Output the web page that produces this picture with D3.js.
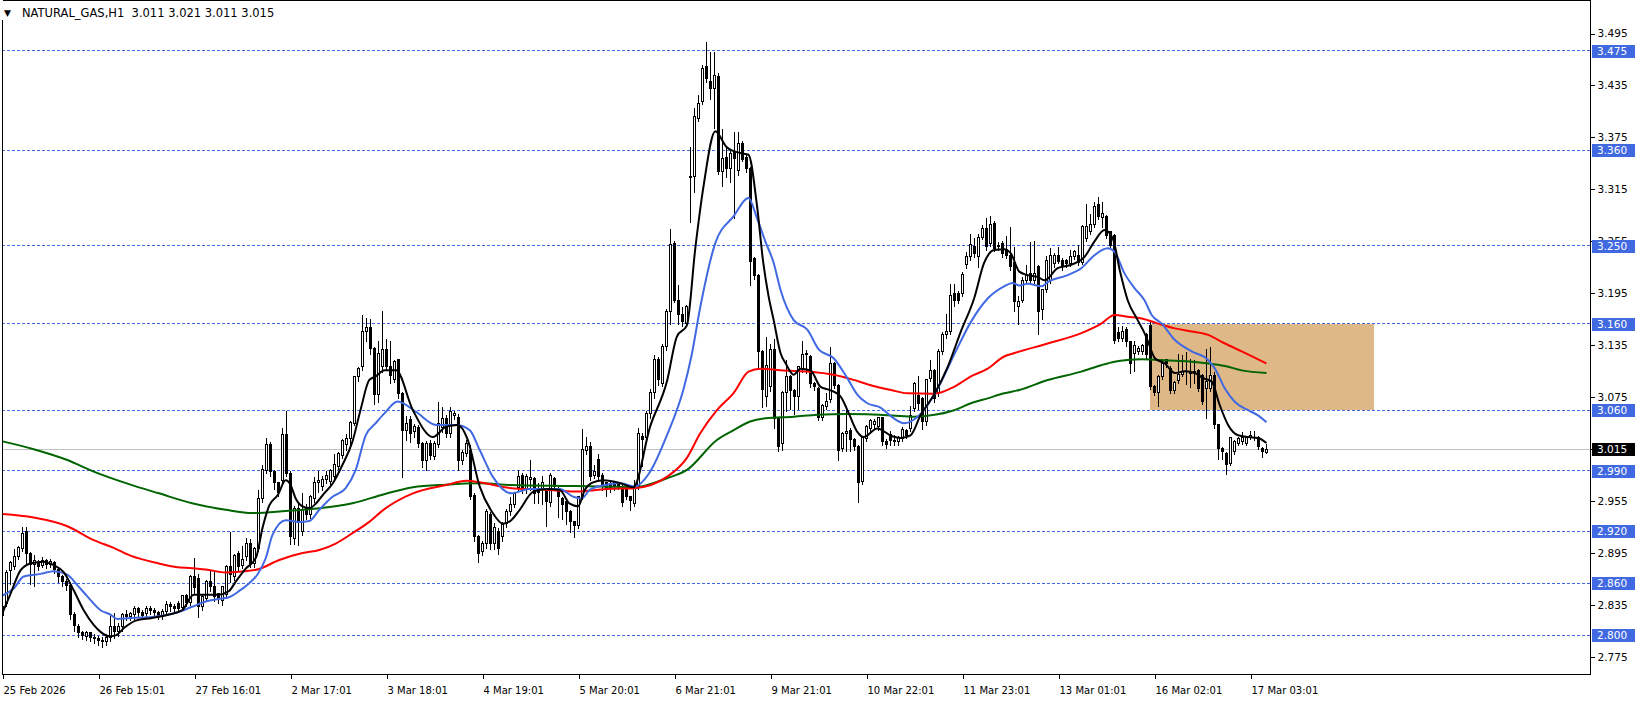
<!DOCTYPE html>
<html><head><meta charset="utf-8">
<script src="https://cdn.jsdelivr.net/npm/d3@7/dist/d3.min.js"></script>
<style>
html,body{margin:0;padding:0;background:#fff;overflow:hidden;}
svg{display:block;}
</style></head><body>
<svg id="chart" width="1641" height="703"></svg>
<script>
const titleText = "NATURAL_GAS,H1  3.011 3.021 3.011 3.015";

const opens = [
2.833,2.837,2.875,2.879,2.891,2.900,2.920,2.895,2.882,2.884,
2.881,2.886,2.882,2.884,2.876,2.868,2.862,2.858,2.824,2.810,
2.803,2.799,2.803,2.798,2.796,2.794,2.793,2.797,2.810,2.805,
2.810,2.824,2.822,2.824,2.831,2.826,2.825,2.831,2.829,2.826,
2.823,2.828,2.836,2.833,2.837,2.832,2.846,2.838,2.868,2.866,
2.833,2.843,2.862,2.856,2.848,2.840,2.847,2.880,2.868,2.894,
2.881,2.891,2.906,2.883,2.900,2.958,2.990,3.020,2.989,2.976,
2.979,3.032,2.987,2.912,2.947,2.920,2.946,2.940,2.958,2.976,
2.972,2.980,2.978,2.983,2.995,3.008,3.020,3.027,3.045,3.099,
3.110,3.151,3.155,3.131,3.078,3.110,3.130,3.110,3.095,3.118,
3.079,3.037,3.049,3.035,3.040,3.022,3.002,3.022,3.007,3.020,
3.040,3.050,3.033,3.054,3.052,3.002,3.010,3.014,2.962,2.914,
2.897,2.906,2.940,2.906,2.920,2.914,2.929,2.943,2.951,2.971,
2.985,2.968,2.980,2.981,2.968,2.970,2.968,2.953,2.981,2.968,
2.958,2.954,2.943,2.931,2.927,2.960,3.014,3.018,2.985,3.003,
2.985,2.976,2.975,2.976,2.974,2.972,2.969,2.960,2.952,2.972,
3.030,3.028,3.056,3.080,3.118,3.091,3.133,3.174,3.253,3.187,
3.170,3.160,3.330,3.330,3.397,3.416,3.457,3.439,3.432,3.445,
3.336,3.352,3.339,3.358,3.337,3.368,3.352,3.339,3.235,3.216,
3.128,3.076,3.087,3.130,3.050,3.022,3.081,3.099,3.083,3.076,
3.108,3.126,3.122,3.091,3.085,3.051,3.064,3.072,3.114,3.089,
3.016,3.033,3.037,3.026,3.018,2.978,3.027,3.039,3.043,3.041,
3.051,3.024,3.032,3.025,3.024,3.027,3.036,3.039,3.062,3.077,
3.074,3.047,3.097,3.106,3.080,3.128,3.147,3.151,3.195,3.195,
3.195,3.228,3.237,3.249,3.237,3.260,3.270,3.253,3.276,3.249,
3.253,3.245,3.239,3.230,3.180,3.187,3.210,3.218,3.210,3.226,
3.176,3.199,3.210,3.229,3.239,3.233,3.233,3.229,3.237,3.239,
3.231,3.258,3.266,3.274,3.297,3.283,3.284,3.266,3.262,3.150,
3.143,3.153,3.139,3.126,3.128,3.128,3.147,3.158,3.087,3.081,
3.099,3.118,3.108,3.083,3.094,3.101,3.104,3.104,3.102,3.106,
3.100,3.085,3.085,3.100,3.043,3.016,3.010,2.999,3.012,3.022,
3.024,3.022,3.029,3.029,3.029,3.016,3.011];

const highs = [
2.840,2.876,2.886,2.900,2.904,2.926,2.926,2.897,2.893,2.888,
2.891,2.889,2.889,2.887,2.878,2.870,2.866,2.860,2.828,2.814,
2.806,2.806,2.805,2.802,2.800,2.799,2.802,2.825,2.826,2.815,
2.826,2.830,2.828,2.835,2.833,2.830,2.834,2.835,2.832,2.829,
2.831,2.840,2.839,2.837,2.840,2.847,2.848,2.870,2.890,2.872,
2.848,2.865,2.876,2.875,2.850,2.858,2.882,2.920,2.895,2.898,
2.904,2.913,2.912,2.903,2.968,2.997,3.029,3.024,2.992,2.978,
3.040,3.060,2.990,2.950,2.952,2.965,2.952,2.963,2.983,2.990,
2.985,2.990,2.993,3.010,3.012,3.027,3.033,3.048,3.100,3.110,
3.170,3.167,3.166,3.133,3.140,3.175,3.143,3.140,3.118,3.120,
3.082,3.054,3.054,3.045,3.043,3.024,3.025,3.026,3.025,3.070,
3.064,3.055,3.064,3.060,3.056,3.015,3.026,3.020,2.965,2.917,
2.910,2.946,2.943,2.930,2.925,2.932,2.947,2.960,2.966,2.991,
2.988,2.987,3.003,2.984,2.976,2.985,2.970,2.988,2.984,2.972,
2.960,2.956,2.945,2.933,2.962,3.039,3.030,3.024,2.997,3.010,
2.988,2.978,2.979,2.978,2.976,2.974,2.971,2.962,2.980,3.040,
3.034,3.060,3.085,3.124,3.122,3.137,3.178,3.270,3.256,3.205,
3.180,3.182,3.364,3.410,3.424,3.459,3.486,3.474,3.474,3.450,
3.385,3.366,3.360,3.382,3.382,3.372,3.355,3.341,3.238,3.218,
3.130,3.145,3.137,3.143,3.052,3.083,3.118,3.101,3.085,3.112,
3.141,3.130,3.124,3.093,3.087,3.068,3.080,3.133,3.116,3.091,
3.035,3.066,3.040,3.028,3.020,3.030,3.043,3.050,3.050,3.053,
3.053,3.027,3.037,3.032,3.031,3.041,3.039,3.066,3.093,3.100,
3.076,3.097,3.118,3.108,3.131,3.151,3.172,3.206,3.206,3.198,
3.220,3.243,3.264,3.260,3.264,3.274,3.282,3.285,3.279,3.255,
3.256,3.262,3.272,3.249,3.193,3.214,3.228,3.255,3.256,3.228,
3.200,3.239,3.248,3.242,3.249,3.236,3.235,3.245,3.245,3.251,
3.274,3.299,3.287,3.301,3.307,3.301,3.286,3.268,3.264,3.157,
3.158,3.157,3.141,3.141,3.135,3.137,3.150,3.162,3.090,3.101,
3.120,3.120,3.112,3.094,3.126,3.124,3.128,3.120,3.118,3.108,
3.102,3.131,3.133,3.105,3.045,3.018,3.012,3.030,3.026,3.030,
3.035,3.030,3.037,3.037,3.031,3.018,3.021];

const lows = [
2.820,2.835,2.860,2.877,2.889,2.898,2.883,2.860,2.858,2.876,
2.879,2.878,2.879,2.873,2.862,2.857,2.853,2.820,2.806,2.799,
2.796,2.795,2.794,2.792,2.789,2.787,2.790,2.794,2.797,2.800,
2.806,2.818,2.818,2.820,2.822,2.819,2.822,2.825,2.822,2.819,
2.820,2.826,2.829,2.827,2.828,2.830,2.835,2.836,2.850,2.822,
2.830,2.840,2.852,2.840,2.838,2.836,2.844,2.862,2.864,2.876,
2.878,2.888,2.880,2.879,2.898,2.955,2.988,2.985,2.970,2.962,
2.975,2.985,2.906,2.906,2.905,2.917,2.935,2.936,2.955,2.966,
2.968,2.976,2.974,2.980,2.993,3.005,3.015,3.022,3.043,3.094,
3.107,3.140,3.125,3.068,3.070,3.105,3.108,3.092,3.093,3.075,
2.983,3.026,3.024,3.030,3.018,2.995,2.991,3.004,3.004,3.018,
3.035,3.030,3.030,3.050,2.991,2.998,3.008,2.958,2.910,2.885,
2.893,2.902,2.900,2.900,2.895,2.910,2.926,2.940,2.949,2.968,
2.965,2.965,2.968,2.953,2.953,2.952,2.927,2.950,2.970,2.937,
2.935,2.929,2.920,2.914,2.925,2.958,3.010,2.980,2.982,2.980,
2.968,2.962,2.966,2.968,2.970,2.950,2.958,2.945,2.950,2.970,
2.996,3.025,3.052,3.075,3.090,3.088,3.130,3.160,3.185,3.160,
3.158,3.158,3.278,3.312,3.395,3.414,3.440,3.420,3.387,3.333,
3.320,3.330,3.324,3.282,3.332,3.348,3.336,3.205,3.212,3.108,
3.064,3.066,3.083,3.040,3.014,3.015,3.060,3.062,3.056,3.062,
3.105,3.103,3.087,3.084,3.049,3.049,3.062,3.070,3.086,3.003,
3.014,3.014,3.014,3.015,2.954,2.975,3.025,3.036,3.040,3.038,
3.020,3.017,3.020,3.020,3.020,3.025,3.028,3.037,3.060,3.062,
3.039,3.044,3.094,3.070,3.077,3.125,3.144,3.149,3.181,3.184,
3.193,3.225,3.234,3.238,3.226,3.258,3.246,3.250,3.244,3.245,
3.238,3.236,3.222,3.175,3.160,3.185,3.207,3.207,3.206,3.149,
3.166,3.197,3.207,3.226,3.230,3.222,3.226,3.227,3.235,3.228,
3.229,3.256,3.264,3.272,3.281,3.272,3.260,3.248,3.138,3.141,
3.140,3.135,3.103,3.106,3.125,3.125,3.120,3.085,3.078,3.066,
3.097,3.110,3.080,3.080,3.092,3.100,3.091,3.087,3.092,3.083,
3.068,3.052,3.083,3.040,3.004,3.004,2.987,2.997,3.010,3.020,
3.022,3.020,3.027,3.026,3.016,3.006,3.011];

const closes = [
2.823,2.873,2.884,2.891,2.902,2.918,2.895,2.882,2.886,2.879,
2.886,2.882,2.885,2.876,2.868,2.862,2.858,2.824,2.811,2.803,
2.800,2.803,2.798,2.796,2.794,2.793,2.797,2.810,2.805,2.810,
2.824,2.822,2.825,2.831,2.826,2.823,2.831,2.829,2.826,2.823,
2.828,2.836,2.833,2.831,2.831,2.846,2.838,2.868,2.855,2.833,
2.845,2.862,2.856,2.845,2.843,2.856,2.880,2.870,2.892,2.879,
2.888,2.906,2.883,2.900,2.958,2.991,3.020,2.989,2.976,2.965,
3.032,2.987,2.914,2.947,2.930,2.945,2.940,2.960,2.977,2.979,
2.980,2.985,2.990,2.997,3.010,3.025,3.027,3.046,3.099,3.108,
3.151,3.155,3.131,3.078,3.126,3.130,3.110,3.100,3.116,3.079,
3.037,3.045,3.033,3.041,3.022,3.002,3.022,3.008,3.022,3.045,
3.050,3.033,3.058,3.056,3.002,3.011,3.022,2.960,2.914,2.895,
2.906,2.943,2.906,2.925,2.900,2.928,2.943,2.951,2.964,2.983,
2.968,2.983,2.982,2.964,2.965,2.976,2.954,2.985,2.972,2.960,
2.951,2.943,2.931,2.927,2.960,3.015,3.018,2.983,2.989,2.983,
2.972,2.968,2.970,2.972,2.972,2.953,2.960,2.956,2.972,3.033,
3.026,3.056,3.081,3.118,3.095,3.133,3.174,3.251,3.187,3.170,
3.162,3.180,3.329,3.399,3.414,3.455,3.443,3.432,3.447,3.336,
3.351,3.339,3.356,3.351,3.368,3.349,3.339,3.232,3.216,3.128,
3.084,3.112,3.130,3.050,3.018,3.080,3.099,3.083,3.076,3.110,
3.124,3.124,3.091,3.087,3.051,3.066,3.070,3.114,3.089,3.014,
3.033,3.035,3.026,3.018,2.976,3.028,3.041,3.048,3.047,3.051,
3.024,3.020,3.025,3.024,3.028,3.038,3.031,3.054,3.091,3.068,
3.047,3.095,3.106,3.074,3.128,3.147,3.151,3.193,3.187,3.187,
3.217,3.237,3.251,3.241,3.260,3.270,3.249,3.274,3.247,3.250,
3.241,3.239,3.226,3.185,3.185,3.210,3.216,3.210,3.218,3.174,
3.199,3.233,3.239,3.239,3.232,3.226,3.229,3.237,3.243,3.231,
3.272,3.272,3.274,3.295,3.284,3.287,3.262,3.250,3.141,3.143,
3.151,3.139,3.114,3.135,3.131,3.135,3.124,3.087,3.081,3.099,
3.114,3.114,3.083,3.092,3.101,3.105,3.103,3.102,3.105,3.085,
3.070,3.093,3.100,3.043,3.016,3.012,2.997,3.028,3.024,3.027,
3.029,3.028,3.031,3.028,3.018,3.012,3.015];

// moving averages: [bar index, price]
const maFast = [[0,2.826],[2,2.848],[4.5,2.875],[7,2.883],[10.3,2.885],[12.8,2.881],[15.3,2.873],[17.8,2.852],[20.3,2.829],[22.8,2.812],[24.5,2.804],[26.6,2.799],[28.3,2.800],[30.5,2.809],[33.3,2.817],[37.4,2.820],[41.6,2.824],[44.9,2.829],[47.8,2.847],[50.8,2.847],[54,2.847],[56.6,2.851],[58.3,2.862],[60.8,2.877],[63.4,2.890],[65,2.924],[66.7,2.950],[68.8,2.962],[70.8,2.979],[72,2.974],[73.3,2.958],[75,2.949],[76.7,2.947],[78.3,2.952],[80.4,2.964],[82.5,2.975],[85,2.997],[87.5,3.024],[89.6,3.062],[91.7,3.095],[93.3,3.099],[95.5,3.106],[98.4,3.106],[102.6,3.060],[107.6,3.029],[110.9,3.041],[113.8,3.043],[116.3,3.026],[119.3,2.972],[122.6,2.941],[125.1,2.929],[127.2,2.933],[129.3,2.945],[132.7,2.966],[136,2.969],[139.3,2.968],[141.8,2.952],[143.9,2.949],[145.6,2.968],[147.3,2.976],[150.2,2.979],[154.3,2.976],[157.7,2.971],[161.9,3.041],[166.1,3.093],[168.6,3.145],[171.1,3.158],[173.2,3.247],[175.3,3.320],[178.2,3.382],[181,3.364],[184.4,3.357],[186.5,3.355],[188.6,3.297],[190.2,3.230],[191.5,3.192],[192.8,3.164],[194.5,3.126],[195.8,3.114],[197.8,3.101],[199.5,3.108],[202,3.106],[204.5,3.087],[207,3.083],[209.5,3.076],[211.6,3.056],[213.7,3.035],[215.3,3.029],[218.7,3.039],[222.4,3.030],[224.6,3.028],[227,3.031],[229.6,3.055],[232.9,3.078],[236.3,3.110],[239.6,3.151],[242.9,3.189],[245.4,3.230],[247.9,3.245],[250.4,3.246],[252.1,3.241],[254.2,3.220],[256.3,3.216],[258.8,3.214],[260.5,3.210],[263.8,3.224],[267.2,3.228],[270.5,3.237],[273,3.255],[275.5,3.268],[277.6,3.258],[279.3,3.222],[281.3,3.187],[283.8,3.164],[285.5,3.149],[286.4,3.139],[288.1,3.120],[290.6,3.114],[293.1,3.103],[295.6,3.105],[298.1,3.103],[300.2,3.097],[302.3,3.093],[304.3,3.066],[306.4,3.043],[308.9,3.031],[311.4,3.029],[313.9,3.028],[316,3.022]];

const maMid = [[0,2.846],[2.8,2.854],[5.3,2.868],[9.5,2.871],[12.8,2.874],[16.2,2.870],[18.7,2.858],[21.2,2.845],[24.5,2.829],[27,2.824],[28.7,2.819],[32,2.820],[34.9,2.8205],[39.1,2.822],[43.3,2.826],[47.4,2.833],[50.8,2.839],[54,2.842],[56.6,2.844],[59.1,2.851],[61.6,2.860],[63.7,2.870],[65.8,2.889],[67.5,2.916],[70.8,2.933],[74.2,2.931],[76.7,2.932],[79.2,2.945],[82.5,2.960],[85.8,2.970],[88.3,2.991],[90.8,3.031],[93.3,3.045],[95.4,3.056],[98.8,3.070],[103.4,3.058],[108.4,3.043],[113.4,3.043],[116.8,3.037],[119.3,3.014],[122.6,2.983],[127.2,2.964],[131.8,2.969],[139.3,2.969],[142.7,2.960],[144.8,2.958],[146.8,2.968],[151,2.974],[154.3,2.976],[158,2.972],[161.9,2.989],[166.1,3.031],[170.3,3.085],[172.3,3.124],[174.4,3.178],[178.2,3.253],[182.8,3.284],[186.5,3.305],[188.6,3.282],[190.7,3.255],[192.8,3.230],[194.5,3.199],[197.8,3.164],[201.2,3.153],[204.1,3.130],[207.8,3.120],[211.2,3.097],[213.7,3.078],[216.2,3.068],[219.5,3.063],[222.4,3.052],[225.4,3.045],[229.6,3.056],[233.8,3.085],[237.9,3.124],[242.1,3.162],[246.3,3.189],[250.4,3.203],[252.5,3.207],[254.2,3.204],[256.3,3.206],[259.7,3.203],[261.3,3.208],[266.3,3.216],[269.7,3.224],[273,3.239],[276.3,3.247],[278,3.243],[280.5,3.218],[283,3.201],[285.5,3.187],[287.3,3.170],[289.8,3.160],[293.1,3.141],[297.3,3.128],[301.4,3.118],[303.1,3.108],[305.6,3.085],[308,3.070],[311.4,3.060],[313.9,3.054],[316,3.046]];

const maRed = [[0,2.940],[7.8,2.936],[16.2,2.926],[22.8,2.910],[27.8,2.901],[32,2.892],[39.1,2.883],[43.3,2.879],[47.4,2.8775],[51.6,2.8755],[55.8,2.8725],[59.9,2.8736],[63.7,2.876],[69.2,2.887],[75,2.895],[79.2,2.8985],[83.3,2.906],[87.5,2.918],[91.7,2.931],[95.4,2.9455],[102.6,2.964],[110.9,2.9736],[115.9,2.9786],[119.3,2.9767],[127.2,2.970],[134,2.9686],[143.5,2.966],[151,2.969],[158,2.970],[166.1,2.983],[171.1,3.005],[174.4,3.033],[178.6,3.060],[182.8,3.080],[186.5,3.1045],[189.5,3.108],[194.5,3.106],[202,3.1045],[207.8,3.101],[212.8,3.095],[216.2,3.090],[222.4,3.083],[226.3,3.0795],[232.9,3.079],[237.9,3.087],[242.1,3.099],[246.3,3.108],[250.4,3.122],[253,3.126],[261.3,3.137],[269.7,3.149],[274.7,3.160],[278,3.170],[281.3,3.168],[284.8,3.166],[288.9,3.160],[293.1,3.1545],[297.3,3.151],[301.4,3.147],[305.6,3.137],[309.8,3.128],[316,3.114]];

const maGreen = [[0,3.024],[7.8,3.015],[16.2,3.0025],[22.8,2.989],[32,2.974],[39.1,2.964],[47.4,2.9525],[55.8,2.945],[62.5,2.9413],[70.8,2.9436],[79.2,2.9467],[87.5,2.9525],[95.4,2.963],[102.6,2.971],[110.9,2.974],[119.3,2.9755],[127.2,2.9735],[140,2.9725],[150,2.972],[158,2.971],[166.1,2.9814],[171.1,2.991],[178.6,3.0256],[182.8,3.037],[186.9,3.047],[190.7,3.0507],[197.8,3.0525],[203.7,3.0548],[211.2,3.0556],[222.4,3.054],[227.9,3.0525],[233.8,3.0552],[237.9,3.060],[242.1,3.068],[246.3,3.0737],[250.4,3.0795],[254.2,3.0833],[261.3,3.0948],[269.7,3.1045],[274.7,3.112],[278,3.116],[281.3,3.118],[284.8,3.1187],[288.9,3.118],[293.1,3.117],[297.3,3.116],[301.4,3.114],[305.6,3.111],[309.8,3.106],[316,3.103]];

const timeLabels = ["25 Feb 2026","26 Feb 15:01","27 Feb 16:01","2 Mar 17:01","3 Mar 18:01","4 Mar 19:01","5 Mar 20:01","6 Mar 21:01","9 Mar 21:01","10 Mar 22:01","11 Mar 23:01","13 Mar 01:01","16 Mar 02:01","17 Mar 03:01"];
const timeLabelBars = [0,24,48,72,96,120,144,168,192,216,240,264,288,312];
const priceTicks = [3.495,3.435,3.375,3.315,3.255,3.195,3.135,3.075,3.015,2.955,2.895,2.835,2.775];
const levelPrices = [3.475,3.360,3.250,3.160,3.060,2.990,2.920,2.860,2.800];
const currentPrice = 3.015;
const zoneBars = [287, 343];
const zonePrices = [3.060, 3.160];

// ---------- drawing ----------
const W = 1641, H = 703;
const plot = {left: 2, right: 1590, top: 0, bottom: 674};
const FONT = "DejaVu Sans, sans-serif";
const svg = d3.select("#chart");
const x = d3.scaleLinear().domain([0, 397]).range([2.5, 1590.5]);
const y = d3.scaleLinear().domain([2.775, 3.495]).range([657, 33.5]);
const snap = v => Math.round(v - 0.5) + 0.5;

svg.append("rect").attr("width", W).attr("height", H).attr("fill", "#fff");

svg.append("clipPath").attr("id", "plotclip").append("rect")
  .attr("x", plot.left).attr("y", plot.top)
  .attr("width", plot.right - plot.left).attr("height", plot.bottom - plot.top);
const g = svg.append("g").attr("clip-path", "url(#plotclip)");

// level lines
g.selectAll("line.level").data(levelPrices).join("line")
  .attr("class", "level")
  .attr("x1", plot.left).attr("x2", plot.right)
  .attr("y1", d => snap(y(d))).attr("y2", d => snap(y(d)))
  .attr("stroke", "#4169E1").attr("stroke-width", 1)
  .attr("stroke-dasharray", "3,2").attr("shape-rendering", "crispEdges");

// current price line
g.append("line")
  .attr("x1", plot.left).attr("x2", plot.right)
  .attr("y1", snap(y(currentPrice))).attr("y2", snap(y(currentPrice)))
  .attr("stroke", "#C0C0C0").attr("stroke-width", 1).attr("shape-rendering", "crispEdges");

// zone rectangle
g.append("rect")
  .attr("x", Math.round(x(zoneBars[0])))
  .attr("y", Math.round(y(zonePrices[1])))
  .attr("width", Math.round(x(zoneBars[1])) - Math.round(x(zoneBars[0])))
  .attr("height", Math.round(y(zonePrices[0])) - Math.round(y(zonePrices[1])))
  .attr("fill", "#DEB887");

// candles
const candles = opens.map((o, i) => ({i, o, h: highs[i], l: lows[i], c: closes[i]}));
const cg = g.append("g").attr("shape-rendering", "crispEdges");
cg.selectAll("line.wick").data(candles).join("line")
  .attr("class", "wick")
  .attr("x1", d => x(d.i)).attr("x2", d => x(d.i))
  .attr("y1", d => snap(y(d.h))).attr("y2", d => snap(y(d.l)) + 1)
  .attr("stroke", "#000").attr("stroke-width", 1);
cg.selectAll("rect.body").data(candles).join("rect")
  .attr("class", "body")
  .attr("x", d => x(d.i) - 1)
  .attr("y", d => snap(y(Math.max(d.o, d.c))))
  .attr("width", 2)
  .attr("height", d => Math.max(0, snap(y(Math.min(d.o, d.c))) - snap(y(Math.max(d.o, d.c)))))
  .attr("fill", d => d.c >= d.o ? "#fff" : "#000")
  .attr("stroke", "#000").attr("stroke-width", 1);

// moving averages
const line = d3.line().x(d => x(d[0])).y(d => y(d[1])).curve(d3.curveMonotoneX);
[[maGreen, "#006400"], [maRed, "#FF0000"], [maMid, "#4169E1"], [maFast, "#000000"]].forEach(([data, col]) => {
  g.append("path").datum(data).attr("d", line)
    .attr("fill", "none").attr("stroke", col).attr("stroke-width", 2)
    .attr("stroke-linejoin", "round");
});

// frame
svg.append("path")
  .attr("d", `M${plot.left + 0.5},20 V${plot.bottom + 0.5} H${plot.right + 0.5} V0.5 H${plot.left + 0.5}`)
  .attr("fill", "none").attr("stroke", "#000").attr("stroke-width", 1)
  .attr("shape-rendering", "crispEdges");

// price axis
const yAxisG = svg.append("g").attr("transform", `translate(${plot.right + 0.5},0)`)
  .call(d3.axisRight(y).tickValues(priceTicks).tickSize(4).tickPadding(3).tickFormat(d3.format(".3f")));
yAxisG.select(".domain").remove();
yAxisG.attr("font-family", FONT).attr("font-size", 10.5);
yAxisG.selectAll("line").attr("stroke", "#000").attr("shape-rendering", "crispEdges");
yAxisG.selectAll("text").attr("fill", "#000");

// time axis
const xAxisG = svg.append("g").attr("transform", `translate(0,${plot.bottom + 0.5})`)
  .call(d3.axisBottom(x).tickValues(timeLabelBars).tickSize(4).tickPadding(8)
    .tickFormat((d, i) => timeLabels[i]));
xAxisG.select(".domain").remove();
xAxisG.attr("font-family", FONT).attr("font-size", 10);
xAxisG.selectAll("line").attr("stroke", "#000").attr("shape-rendering", "crispEdges");
xAxisG.selectAll("text").attr("fill", "#000").attr("text-anchor", "start").attr("dx", 0.5);

// level labels
const lg = svg.append("g").attr("font-family", FONT).attr("font-size", 10.5);
levelPrices.forEach(p => {
  const yy = Math.round(y(p));
  lg.append("rect").attr("x", plot.right + 2).attr("y", yy - 6).attr("width", 43).attr("height", 13).attr("fill", "#4169E1");
  lg.append("text").attr("x", plot.right + 7).attr("y", yy).attr("dy", "0.35em").attr("fill", "#fff").text(p.toFixed(3));
});
{
  const yy = Math.round(y(currentPrice));
  lg.append("rect").attr("x", plot.right + 2).attr("y", yy - 6).attr("width", 43).attr("height", 13).attr("fill", "#000");
  lg.append("text").attr("x", plot.right + 7).attr("y", yy).attr("dy", "0.35em").attr("fill", "#fff").text(currentPrice.toFixed(3));
}

// title
svg.append("text").attr("x", 4).attr("y", 16).attr("font-family", FONT).attr("font-size", 9).attr("fill", "#000").text("▼");
svg.append("text").attr("x", 22).attr("y", 17).attr("font-family", FONT).attr("font-size", 11.5)
  .attr("fill", "#000").style("white-space", "pre").attr("xml:space", "preserve").text(titleText);
</script>
</body></html>
